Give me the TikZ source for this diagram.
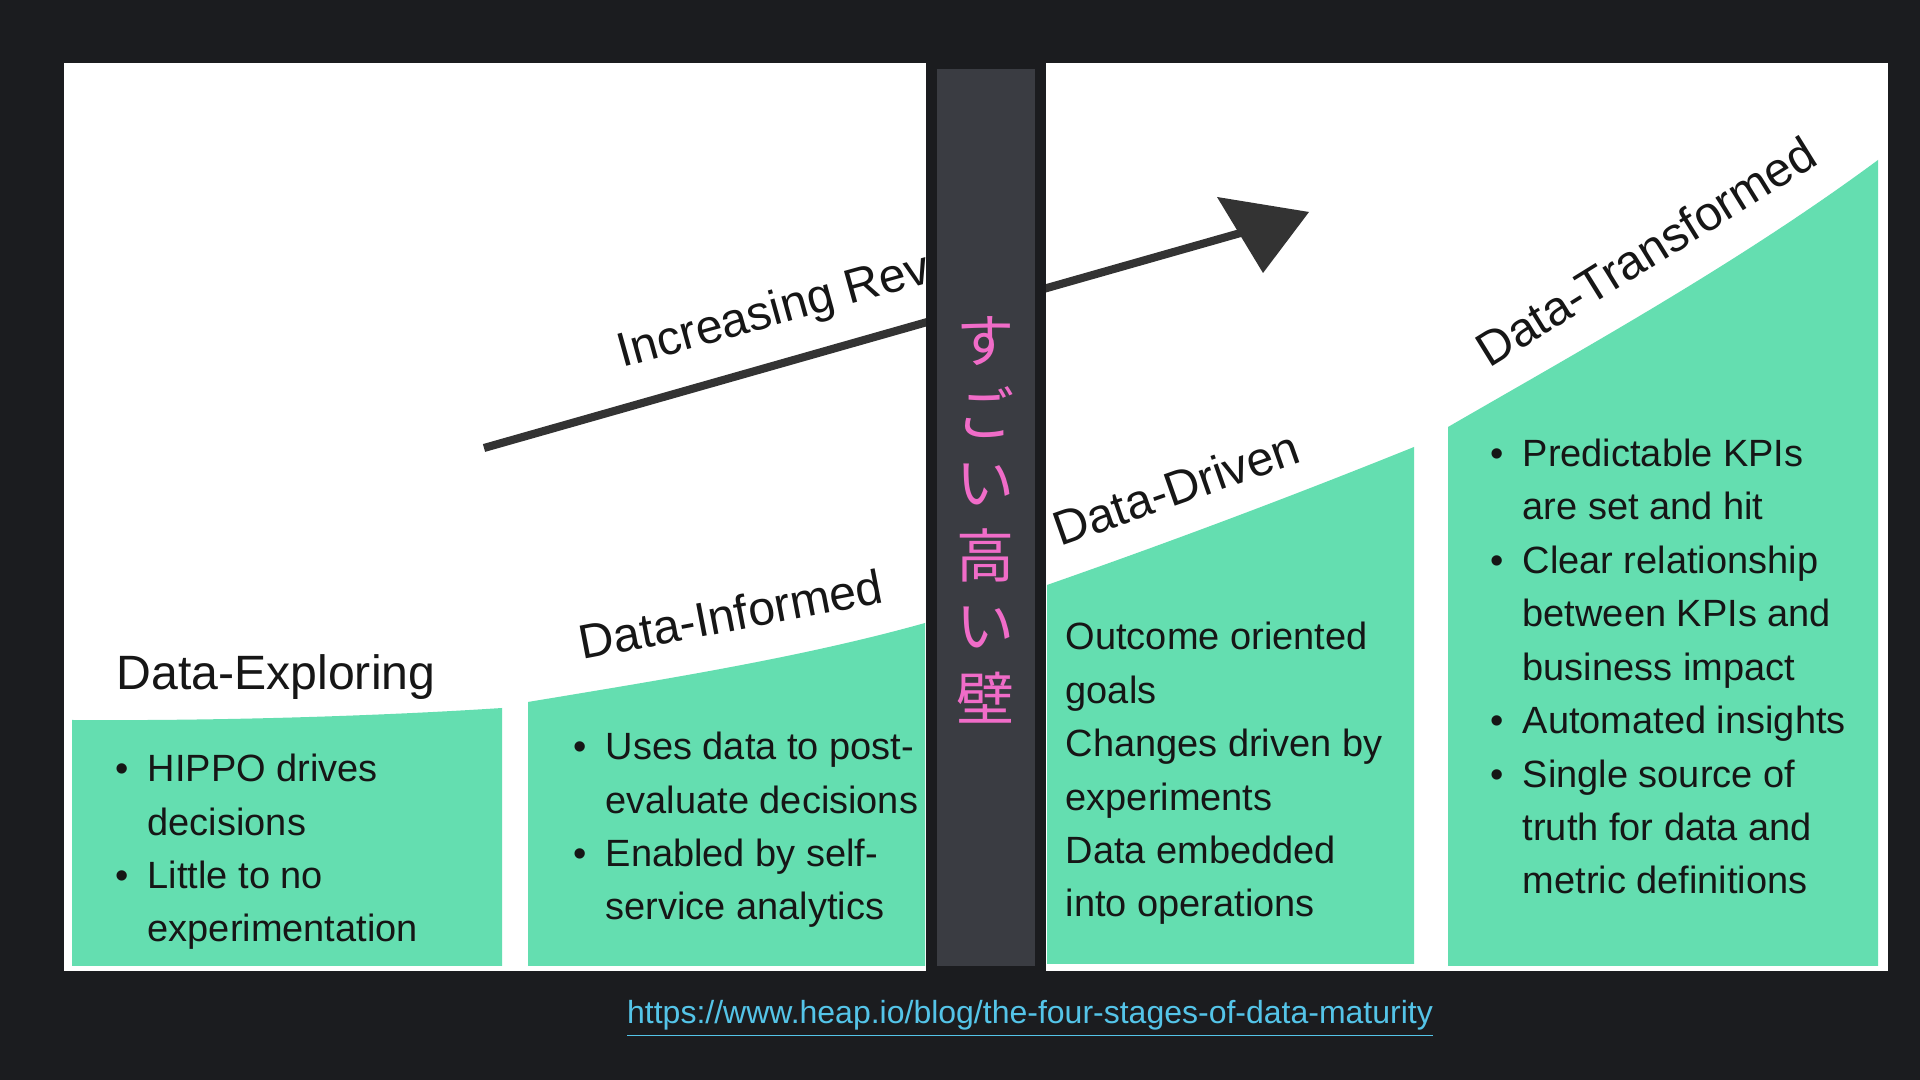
\documentclass[tikz,border=0pt]{standalone}
\usepackage{fontspec}
\setmainfont{Liberation Sans}
\newfontfamily\jpfont{Noto Sans CJK JP}
\usetikzlibrary{arrows.meta}
\definecolor{slidebg}{RGB}{27, 28, 31}
\definecolor{wallgray}{RGB}{58, 60, 66}
\definecolor{wallpink}{RGB}{240, 108, 200}
\definecolor{stagegreen}{RGB}{100, 222, 176}
\definecolor{inkdark}{RGB}{22, 22, 22}
\definecolor{arrowgray}{RGB}{51, 51, 51}
\definecolor{linkblue}{RGB}{84, 196, 232}
\newcommand{\bul}{\llap{\textbullet\hspace{5.5pt}}}

\begin{document}
\begin{tikzpicture}[
    x=0.01cm, y=-0.01cm,
    stagehead/.style={anchor=base west, inner sep=0pt, text=inkdark,
               font=\fontsize{13.7pt}{16pt}\selectfont},
    % base of a multi-line node is its last line
    stagebody/.style={anchor=base west, inner sep=0pt, text=inkdark,
               align=left, font=\fontsize{10.8pt}{15.2pt}\selectfont},
    wallchar/.style={inner sep=0pt, text=wallpink,
               font=\jpfont\fontsize{16.5pt}{16.5pt}\selectfont},
]

% -- Slide background and the two picture halves --
\fill[slidebg] (0, 0) rectangle (1920, 1080);
\fill[white] (64, 63) rectangle (926, 971);
\fill[white] (1046, 63) rectangle (1888, 971);

% -- Green stage blocks --
\fill[stagegreen] (72, 966) -- (72, 720)
    .. controls (220, 721) and (380, 716) .. (502, 708)
    -- (502, 966) -- cycle;
\fill[stagegreen] (528, 966) -- (528, 702)
    .. controls (660, 680) and (800, 658) .. (925, 623)
    -- (925, 966) -- cycle;
\fill[stagegreen] (1047, 964) -- (1047, 585)
    .. controls (1170, 542) and (1290, 497) .. (1414, 447)
    -- (1414, 964) -- cycle;
\fill[stagegreen] (1448, 966) -- (1448, 427)
    .. controls (1590, 345) and (1740, 262) .. (1878, 160)
    -- (1878, 966) -- cycle;

% -- Revenue arrow --
\coordinate (rev-start) at (484, 448);
\coordinate (rev-end) at (1244, 232);
\coordinate (rev-tip) at (1309, 212);
\coordinate (rev-wing-a) at (1217, 197);
\coordinate (rev-wing-b) at (1263, 273);
\draw[arrowgray, line width=2.3pt] (rev-start) -- (rev-end);
\fill[arrowgray] (rev-wing-a) -- (rev-tip) -- (rev-wing-b) -- cycle;
\node[stagehead, rotate=15.5] (rev-label)
    at (622, 368) {Increasing Revenue};

% -- Stage titles --
\node[stagehead] (exploring)
    at (116, 690) {Data-Exploring};
\node[stagehead, rotate=10.8] (informed)
    at (582, 660) {Data-Informed};
\node[stagehead, rotate=19.4] (driven)
    at (1060, 547) {Data-Driven};
\node[stagehead, rotate=31.8] (transformed)
    at (1489, 369) {Data-Transformed};

% -- Stage descriptions --
\node[stagebody] (exploring-text) at (147, 942)
    {\bul HIPPO drives\\decisions\\\bul Little to no\\experimentation};
\node[stagebody] (informed-text) at (605, 920)
    {\bul Uses data to post-\\evaluate decisions\\
     \bul Enabled by self-\\service analytics};
\node[stagebody] (driven-text) at (1065, 917)
    {Outcome oriented\\goals\\Changes driven by\\experiments\\
     Data embedded\\into operations};
\node[stagebody] (transformed-text) at (1522, 894)
    {\bul Predictable KPIs\\are set and hit\\
     \bul Clear relationship\\between KPIs and\\business impact\\
     \bul Automated insights\\
     \bul Single source of\\truth for data and\\metric definitions};

% -- The wall --
\fill[slidebg] (926, 63) rectangle (1046, 971);
\fill[wallgray] (937, 69) rectangle (1035, 966);
\node[wallchar] (wall-1) at (986, 341) {す};
\node[wallchar] (wall-2) at (986, 412) {ご};
\node[wallchar] (wall-3) at (986, 484) {い};
\node[wallchar] (wall-4) at (986, 555) {高};
\node[wallchar] (wall-5) at (986, 627) {い};
\node[wallchar] (wall-6) at (986, 698) {壁};

% -- Source link --
\node[anchor=base, inner sep=0pt, text=linkblue,
    font=\fontsize{9.1pt}{11pt}\selectfont] (source)
    at (1030, 1024)
    {\underline{https://www.heap.io/blog/the-four-stages-of-data-maturity}};

\end{tikzpicture}
\end{document}
